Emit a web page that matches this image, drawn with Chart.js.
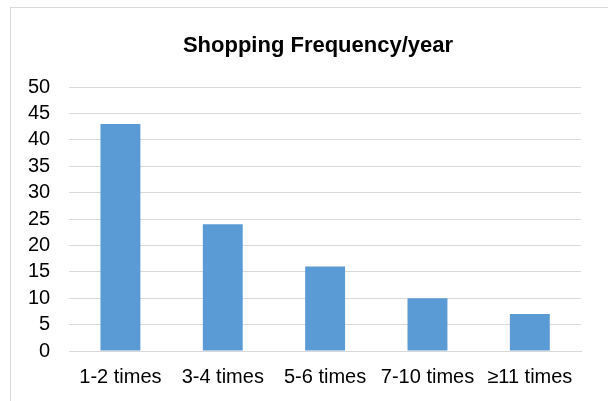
<!DOCTYPE html>
<html>
<head>
<meta charset="utf-8">
<script src="https://cdn.jsdelivr.net/npm/chart.js@4/dist/chart.umd.min.js"></script>
<style>
  body { margin: 0; background: #fff; }
  #frame { position: absolute; left: 10px; top: 7px; width: 700px; height: 500px; border: 1px solid #d9d9d9; }
  #wrap { position: absolute; left: 0; top: 0; width: 608px; height: 401px; }
</style>
</head>
<body>
<div id="frame"></div>
<div id="wrap"><canvas id="myChart" width="608" height="401"></canvas></div>
<script>
var categories = ['1-2 times', '3-4 times', '5-6 times', '7-10 times', '\u226511 times'];
var counts = [43, 24, 16, 10, 7];
var chartTitle = 'Shopping Frequency/year';

// title sits a bit right of the canvas centre in the original, so draw it by hand
var titlePlugin = {
  id: 'titleText',
  afterDraw: function (chart) {
    var c = chart.ctx;
    c.save();
    c.font = 'bold 22px "Liberation Sans", Arial';
    c.fillStyle = '#000';
    c.textAlign = 'center';
    c.textBaseline = 'alphabetic';
    c.fillText(chartTitle, 318, 52);
    c.restore();
  }
};

var ctx = document.getElementById('myChart').getContext('2d');
new Chart(ctx, {
  type: 'bar',
  data: {
    labels: categories,
    datasets: [{
      data: counts,
      backgroundColor: '#5b9bd5',
      categoryPercentage: 1,
      barPercentage: 0.39
    }]
  },
  plugins: [titlePlugin],
  options: {
    responsive: false,
    animation: false,
    layout: { padding: { left: 9, right: 27, top: 87, bottom: -2 } },
    plugins: {
      legend: { display: false },
      tooltip: { enabled: false },
      title: { display: false }
    },
    scales: {
      x: {
        grid: { display: false, drawTicks: false },
        border: { color: '#d9d9d9' },
        ticks: { color: '#000', font: { family: 'Liberation Sans, Arial', size: 20, lineHeight: 1 }, padding: 16, maxRotation: 0, autoSkip: false }
      },
      y: {
        min: 0,
        max: 50,
        grid: { color: '#d9d9d9', drawTicks: false },
        border: { display: false },
        ticks: { stepSize: 5, color: '#000', font: { family: 'Liberation Sans, Arial', size: 20, lineHeight: 1 }, padding: 19, autoSkip: false }
      }
    }
  }
});
</script>
</body>
</html>
